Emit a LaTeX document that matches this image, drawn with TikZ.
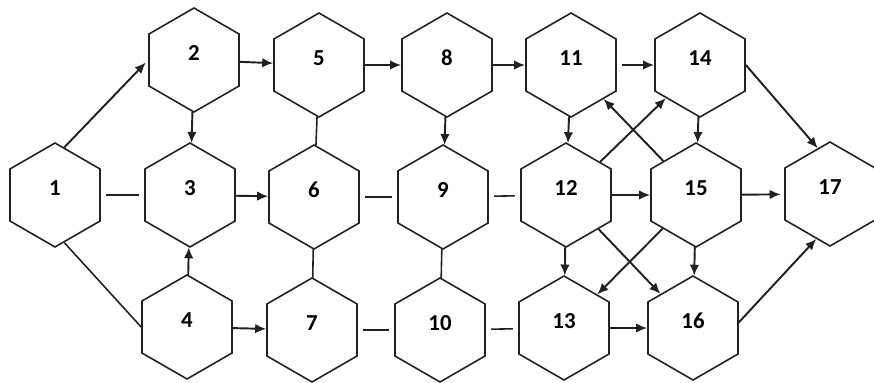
\documentclass[tikz,border=0pt]{standalone}
\usepackage{fontspec}
\setmainfont{Carlito}
\usetikzlibrary{positioning,arrows.meta,shapes.geometric}
\definecolor{hexline}{rgb}{0.13,0.13,0.13}

\begin{document}
\begin{tikzpicture}[
  font=\fontsize{13}{15}\selectfont\bfseries,
  hex/.style={regular polygon, regular polygon sides=6, shape border rotate=30,
    draw=hexline, line width=0.9pt, minimum size=2.08cm, inner sep=0pt,
    text height=8pt, text depth=7pt},
  link/.style={line width=0.9pt, draw=hexline},
  gap/.style={shorten <=3pt, shorten >=3pt},
  flow/.style={-{Latex[length=2.2mm,width=1.9mm]}, line width=1.1pt, draw=hexline}
]
\useasboundingbox (0,0) rectangle (17.48,7.64);

% activity hexagons, three rows
\node[hex] (n1)  at (1.10,3.74)  {1};
\node[hex] (n2)  at (3.88,6.44)  {2};
\node[hex] (n3)  at (3.80,3.74)  {3};
\node[hex] (n4)  at (3.74,1.10)  {4};
\node[hex] (n5)  at (6.38,6.34)  {5};
\node[hex] (n6)  at (6.28,3.70)  {6};
\node[hex] (n7)  at (6.24,1.04)  {7};
\node[hex] (n8)  at (8.94,6.34)  {8};
\node[hex] (n9)  at (8.86,3.70)  {9};
\node[hex] (n10) at (8.80,1.04)  {10};
\node[hex] (n11) at (11.42,6.34) {11};
\node[hex] (n12) at (11.32,3.74) {12};
\node[hex] (n13) at (11.28,1.08) {13};
\node[hex] (n14) at (14.00,6.34) {14};
\node[hex] (n15) at (13.92,3.74) {15};
\node[hex] (n16) at (13.86,1.08) {16};
\node[hex] (n17) at (16.60,3.76) {17};

% left part
\draw[flow, shorten >=2pt] (n1.79) -- (n2.180);
\draw[link, gap] (n1) -- (n3);
\draw[link] (n1.-79) -- (n4.180);
\draw[flow] (n2) -- (n3);
\draw[flow] (n4) -- (n3);
\draw[flow] (n2) -- (n5);
\draw[flow] (n3) -- (n6);
\draw[flow] (n4) -- (n7);

% middle part
\draw[link] (n5) -- (n6);
\draw[link] (n6) -- (n7);
\draw[flow] (n5) -- (n8);
\draw[link, gap] (n6) -- (n9);
\draw[link, gap] (n7) -- (n10);
\draw[flow] (n8) -- (n9);
\draw[link] (n9) -- (n10);
\draw[flow] (n8) -- (n11);
\draw[link, gap] (n9) -- (n12);
\draw[link, gap] (n10) -- (n13);

% right part
\draw[flow] (n11) -- (n12);
\draw[flow, shorten <=3pt] (n11) -- (n14);
\draw[flow] (n12) -- (n14);
\draw[flow] (n15) -- (n11);
\draw[flow] (n14) -- (n15);
\draw[flow] (n12) -- (n15);
\draw[flow] (n12) -- (n13);
\draw[flow] (n15) -- (n16);
\draw[flow] (n12) -- (n16);
\draw[flow] (n15) -- (n13);
\draw[flow] (n13) -- (n16);
\draw[flow] (n14.0) -- (n17.105);
\draw[flow, shorten >=2pt] (n15) -- (n17);
\draw[flow] (n16.7) -- (n17.-107);
\end{tikzpicture}
\end{document}
